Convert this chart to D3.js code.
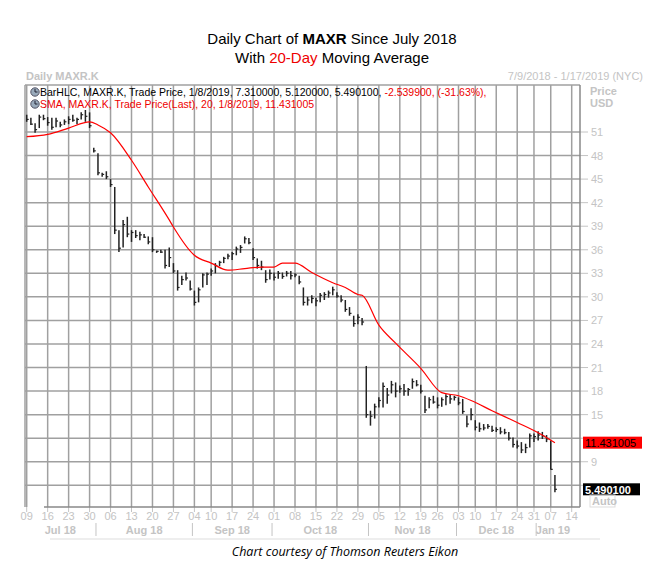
<!DOCTYPE html>
<html>
<head>
<meta charset="utf-8">
<script src="https://cdn.jsdelivr.net/npm/d3@7"></script>
<style>
  body { margin: 0; background: #fff; }
  text { font-family: "Liberation Sans", Arial, sans-serif; }
</style>
</head>
<body>
<div id="chart"></div>
<script>
// daily bars, trading day index 0 = 7/9/2018, last = 1/8/2019
var highs = [53.2,52.8,52.1,53.2,53.2,52.9,52.8,52.8,52.3,52.6,53.0,53.2,52.8,53.5,53.8,53.5,49.0,48.3,45.8,46.0,
  45.0,44.0,38.5,39.8,40.2,38.5,38.5,38.3,38.0,37.7,37.6,35.9,36.0,36.0,36.3,34.3,33.4,32.7,33.1,32.1,
  30.8,31.2,33.0,33.1,33.6,34.3,34.6,35.1,35.5,35.7,36.4,36.6,37.7,37.5,36.2,34.9,34.6,33.4,33.5,33.1,
  33.3,33.1,33.3,33.3,33.0,32.7,31.2,30.0,30.2,29.9,30.5,30.6,30.8,31.3,30.6,30.2,29.6,28.7,27.6,27.8,
  27.3,21.2,15.5,16.4,17.2,19.1,18.4,19.3,19.1,18.7,18.9,18.4,19.6,19.4,18.8,17.4,17.2,17.4,17.2,17.2,
  17.6,17.6,17.4,17.2,17.0,14.9,15.8,14.3,14.0,13.8,13.8,13.6,13.4,13.4,13.2,12.8,12.1,11.7,11.5,11.3,
  12.6,12.6,12.9,12.8,12.4,11.7,7.31];
var lows = [52.3,51.9,50.9,51.5,52.5,51.8,51.3,51.6,51.6,51.9,52.0,52.3,52.0,52.6,52.3,51.5,48.4,45.5,45.3,45.0,
  44.0,38.0,35.7,36.3,37.6,37.0,37.5,37.2,37.5,36.7,35.7,35.6,35.6,33.6,33.8,33.0,30.8,31.5,32.1,30.8,
  28.9,29.3,31.2,31.5,32.7,33.0,33.9,34.3,34.8,34.7,35.3,35.6,36.8,36.7,34.7,33.6,33.4,31.8,32.2,32.1,
  32.3,32.3,32.6,32.2,32.5,31.6,28.9,28.9,29.2,28.8,29.3,29.6,29.9,30.2,29.9,29.3,28.1,27.6,26.2,26.5,
  26.4,14.6,13.6,14.5,15.9,15.9,16.4,17.7,17.2,17.8,17.4,17.4,18.3,18.6,17.7,15.2,15.8,16.4,15.8,16.0,
  16.2,16.4,16.8,16.2,15.1,13.4,14.3,13.0,12.8,13.0,13.2,12.8,12.8,12.5,12.5,11.7,10.8,10.7,10.1,10.1,
  10.8,11.5,11.7,11.9,11.5,8.0,5.12];
var closes = [52.6,52.0,51.3,52.9,52.7,52.2,51.6,52.4,51.9,52.3,52.6,52.5,52.6,53.2,53.0,51.8,48.6,45.8,45.6,45.3,
  44.3,38.5,36.2,39.2,38.0,38.2,37.8,37.9,37.6,37.0,36.0,35.8,35.7,34.0,35.0,33.3,31.2,32.2,32.4,31.0,
  29.3,30.9,32.8,32.9,33.3,34.0,34.4,34.9,35.2,35.5,36.1,36.3,37.4,36.9,35.0,34.0,33.8,32.2,33.0,32.5,
  33.0,32.6,33.0,32.7,32.8,31.9,29.3,29.6,29.8,29.5,30.2,30.3,30.5,30.9,30.1,29.6,28.4,27.9,26.6,27.4,
  26.8,15.0,14.8,16.0,16.8,18.6,17.5,18.8,18.0,18.3,18.0,18.2,19.2,18.8,18.0,15.6,16.9,16.6,16.2,16.9,
  17.3,17.0,17.2,16.5,15.4,13.8,15.0,13.4,13.2,13.3,13.5,13.0,13.1,12.8,12.7,12.0,11.2,11.0,10.5,10.8,
  12.3,12.2,12.4,12.3,11.9,8.03,5.49];

// 20-day SMA (trading day index, value)
var smaIdx = [0,5,10,15,17,20,25,29,34,35,40,44,48,52,56,59,61,64,68,73,76,79,80,84,88,94,99,103,106,111,117,122,126];
var smaVal = [50.4,50.7,51.5,52.3,51.9,50.9,47.4,44.0,39.8,38.9,35.3,34.3,33.4,33.6,33.8,33.8,34.3,34.3,33.1,31.8,31.2,30.3,30.2,26.4,24.1,20.9,17.8,17.4,16.8,15.5,14.0,12.7,11.43];

// weekly gridlines
var weekIdx = [0,5,10,15,20,25,30,35,40,44,49,54,59,64,69,74,79,84,89,94,98,103,107,112,117,121,125,130];
var weekLabels = ["09","16","23","30","06","13","20","27","04","10","17","24","01","08","15","22","29","05","12","19","26","03","10","17","24","31","07","14"];
var monthStart = [17,40,59,82,103,122];
var monthLabels = ["Jul 18","Aug 18","Sep 18","Oct 18","Nov 18","Dec 18","Jan 19"];
var priceTicks = [51,48,45,42,39,36,33,30,27,24,21,18,15,12,9,6];
var priceShown = [51,48,45,42,39,36,33,30,27,24,21,18,15,9];

var svgWidth = 664, svgHeight = 577;
var plot = {left: 25, right: 580, top: 85, bottom: 507};

var svg = d3.select("#chart").append("svg")
  .attr("width", svgWidth).attr("height", svgHeight);

var x = d3.scaleLinear().domain([0, 130]).range([26.7, 571.7]);
var y = d3.scaleLinear().domain([6, 51]).range([485.3, 132]);

var grid = "#a0a0a0", light = "#c4c4c4";

// title
var t1 = svg.append("text").attr("x", 332).attr("y", 44).attr("text-anchor", "middle").style("font-size", "15px");
t1.append("tspan").text("Daily Chart of ");
t1.append("tspan").style("font-weight", "bold").text("MAXR");
t1.append("tspan").text(" Since July 2018");
var t2 = svg.append("text").attr("x", 332).attr("y", 63).attr("text-anchor", "middle").style("font-size", "15px");
t2.append("tspan").text("With ");
t2.append("tspan").attr("fill", "#e00").text("20-Day");
t2.append("tspan").text(" Moving Average");

svg.append("text").attr("x", 26).attr("y", 80).attr("fill", light)
  .style("font-size", "11px").style("font-weight", "bold").text("Daily MAXR.K");
svg.append("text").attr("x", 643).attr("y", 80).attr("fill", light).attr("text-anchor", "end")
  .style("font-size", "11px").text("7/9/2018 - 1/17/2019 (NYC)");
svg.append("text").attr("x", 590).attr("y", 95).attr("fill", light)
  .style("font-size", "11px").style("font-weight", "bold").text("Price");
svg.append("text").attr("x", 590).attr("y", 107).attr("fill", light)
  .style("font-size", "11px").style("font-weight", "bold").text("USD");

// horizontal gridlines + price labels
svg.selectAll(".hgrid").data(priceTicks).enter().append("line")
  .attr("x1", plot.left).attr("x2", plot.right)
  .attr("y1", d => y(d)).attr("y2", d => y(d))
  .attr("stroke", grid).attr("stroke-width", 1.5);
svg.selectAll(".ptick").data(priceTicks).enter().append("line")
  .attr("x1", plot.right).attr("x2", plot.right + 8)
  .attr("y1", d => y(d)).attr("y2", d => y(d))
  .attr("stroke", light);
svg.selectAll(".plabel").data(priceShown).enter().append("text")
  .attr("x", plot.right + 11).attr("y", d => y(d) + 4)
  .attr("fill", light).style("font-size", "11px")
  .text(d => d);

// vertical gridlines
svg.selectAll(".vgrid").data(weekIdx).enter().append("line")
  .attr("x1", d => x(d)).attr("x2", d => x(d))
  .attr("y1", plot.top).attr("y2", plot.bottom)
  .attr("stroke", grid).attr("stroke-width", 1.5);
svg.selectAll(".vtick").data(weekIdx).enter().append("line")
  .attr("x1", d => x(d)).attr("x2", d => x(d))
  .attr("y1", plot.bottom).attr("y2", plot.bottom + 5)
  .attr("stroke", light);

// frame
svg.append("line").attr("x1", plot.left).attr("x2", plot.right).attr("y1", plot.top).attr("y2", plot.top)
  .attr("stroke", grid).attr("stroke-width", 1.5);
svg.append("line").attr("x1", plot.left).attr("x2", plot.left).attr("y1", plot.top).attr("y2", plot.bottom)
  .attr("stroke", grid).attr("stroke-width", 1.5);
svg.append("line").attr("x1", plot.right).attr("x2", plot.right).attr("y1", plot.top).attr("y2", plot.bottom)
  .attr("stroke", "#888").attr("stroke-width", 1.5);
svg.append("line").attr("x1", 44).attr("x2", plot.right).attr("y1", plot.bottom).attr("y2", plot.bottom)
  .attr("stroke", "#888").attr("stroke-width", 1.5);

// HLC bars
var bars = svg.append("g");
highs.forEach(function(h, i) {
  bars.append("line").attr("x1", x(i)).attr("x2", x(i))
    .attr("y1", y(h)).attr("y2", y(lows[i]))
    .attr("stroke", "#222").attr("stroke-width", 1.5);
  bars.append("line").attr("x1", x(i)).attr("x2", x(i) + 2)
    .attr("y1", y(closes[i])).attr("y2", y(closes[i]))
    .attr("stroke", "#222").attr("stroke-width", 1.2);
});

// SMA line
var sma = smaIdx.map((d, i) => [d, smaVal[i]]);
svg.append("path").datum(sma)
  .attr("d", d3.line().curve(d3.curveMonotoneX).x(d => x(d[0])).y(d => y(d[1])))
  .attr("fill", "none").attr("stroke", "#f00").attr("stroke-width", 1.2);

// legend
function clock(cy) {
  svg.append("circle").attr("cx", 35).attr("cy", cy).attr("r", 4.2)
    .attr("fill", "#9ab").attr("stroke", "#556");
  svg.append("path").attr("d", `M35,${cy - 3}V${cy}H37.5`).attr("stroke", "#223").attr("fill", "none");
}
clock(92); clock(104);
var l1 = svg.append("text").attr("x", 40).attr("y", 96).style("font-size", "10.5px");
l1.append("tspan").text("BarHLC, MAXR.K, Trade Price,  1/8/2019, 7.310000, 5.120000, 5.490100, ");
l1.append("tspan").attr("fill", "#e00").text("-2.539900, (-31.63%),");
svg.append("text").attr("x", 40).attr("y", 108).attr("fill", "#e00").style("font-size", "10.5px")
  .text("SMA, MAXR.K, Trade Price(Last),  20,  1/8/2019, 11.431005");

// last-value boxes
svg.append("rect").attr("x", 583).attr("y", y(11.431) - 6).attr("width", 59).attr("height", 12).attr("fill", "#f00");
svg.append("text").attr("x", 585).attr("y", y(11.431) + 4.5).style("font-size", "11px").text("11.431005");
svg.append("rect").attr("x", 583).attr("y", y(5.4901) - 6).attr("width", 57).attr("height", 12).attr("fill", "#000");
svg.append("text").attr("x", 585).attr("y", y(5.4901) + 4.5).attr("fill", "#fff")
  .style("font-size", "11px").style("font-weight", "bold").text("5.490100");
svg.append("rect").attr("x", 590).attr("y", 495).attr("width", 25).attr("height", 12)
  .attr("fill", "none").attr("stroke", "#ddd");
svg.append("text").attr("x", 592).attr("y", 505).attr("fill", light)
  .style("font-size", "11px").style("font-weight", "bold").text("Auto");

// x axis labels
svg.selectAll(".daylabel").data(weekIdx).enter().append("text")
  .attr("x", d => x(d)).attr("y", 520).attr("text-anchor", "middle")
  .attr("fill", light).style("font-size", "11px")
  .text((d, i) => weekLabels[i]);
svg.selectAll(".msep").data(monthStart).enter().append("line")
  .attr("x1", d => x(d) - 2).attr("x2", d => x(d) - 2)
  .attr("y1", 523).attr("y2", 536).attr("stroke", light);
var mEdges = [0].concat(monthStart).concat([130]);
svg.selectAll(".mlabel").data(monthLabels).enter().append("text")
  .attr("x", (d, i) => (x(mEdges[i]) + x(mEdges[i + 1])) / 2 - 2)
  .attr("y", 534).attr("text-anchor", "middle")
  .attr("fill", light).style("font-size", "11px").style("font-weight", "bold")
  .text(d => d);
svg.append("line").attr("x1", 50).attr("x2", 600).attr("y1", 539).attr("y2", 539).attr("stroke", "#ddd");

svg.append("text").attr("x", 345).attr("y", 556).attr("text-anchor", "middle")
  .style("font-family", "'Open Sans', sans-serif").style("font-style", "italic").style("font-size", "12.5px")
  .text("Chart courtesy of Thomson Reuters Eikon");
</script>
</body>
</html>
